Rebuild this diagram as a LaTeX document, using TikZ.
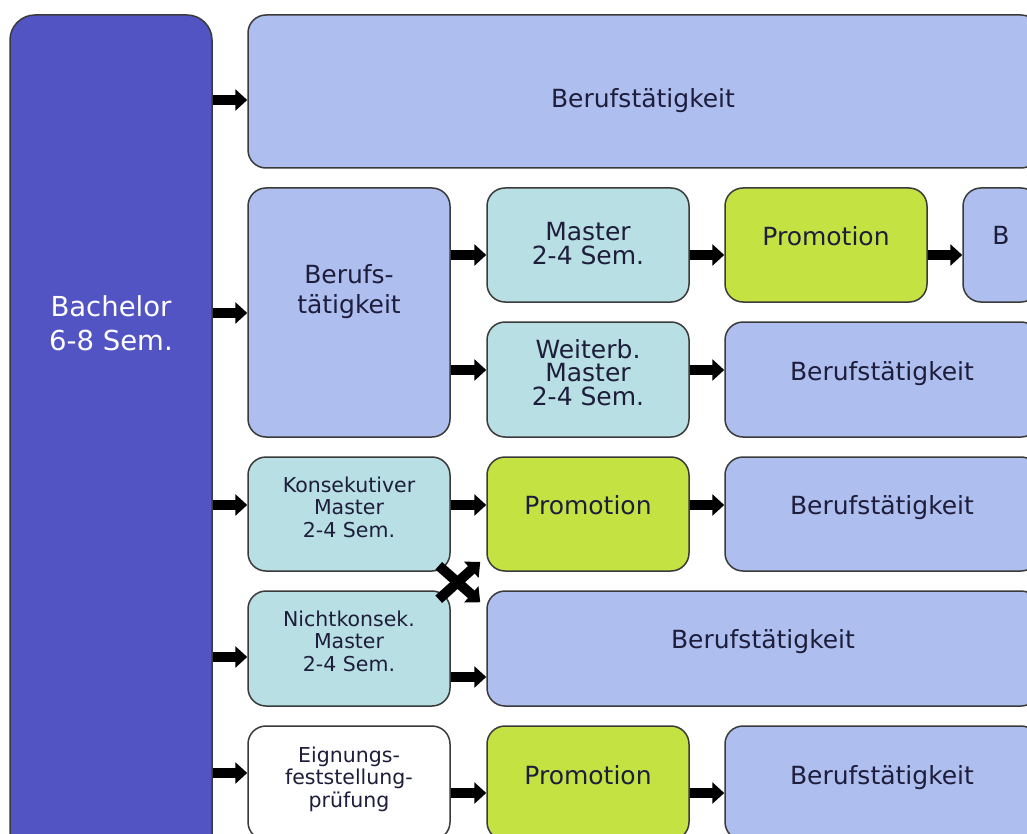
\documentclass[tikz,border=0pt]{standalone}
\usepackage{fontspec}
\setmainfont{DejaVu Sans}
\usetikzlibrary{arrows.meta}
\definecolor{bachc}{HTML}{5354C4}
\definecolor{lav}{HTML}{AEBEEE}
\definecolor{cyanb}{HTML}{B8DFE3}
\definecolor{limec}{HTML}{C4E342}
\definecolor{ink}{HTML}{1E1E3C}
\definecolor{edgec}{HTML}{3A3A3A}
\begin{document}
\begin{tikzpicture}[x=1pt,y=-1pt,
 box/.style={draw=edgec, line width=1.5pt, rounded corners=18pt, inner sep=0pt},
 big/.style={font=\fontsize{25}{23.5}\selectfont, text=ink, align=center, anchor=base, inner sep=0pt},
 small/.style={font=\fontsize{20.5}{22.5}\selectfont, text=ink, align=center, anchor=base, inner sep=0pt},
 arr/.style={line width=10pt, -{Triangle[length=12pt,width=21pt]}},
]
\clip (0,0) rectangle (1027,834);
\fill[white] (0,0) rectangle (1027,834);

% boxes
\node[box, fill=bachc, rounded corners=25pt, minimum width=202pt, minimum height=845pt] (bach) at (111,437.5) {};
\node[box, fill=lav, minimum width=791pt, minimum height=153pt] (top) at (643.5,91.5) {};
\node[box, fill=lav, minimum width=202pt, minimum height=249pt] (beruf2) at (349,312.5) {};
\node[box, fill=cyanb, minimum width=202pt, minimum height=114pt] (master) at (588,245) {};
\node[box, fill=limec, minimum width=202pt, minimum height=114pt] (promoA) at (826,245) {};
\node[box, fill=lav, minimum width=76pt, minimum height=114pt] (bbox) at (1001,245) {};
\node[box, fill=cyanb, minimum width=202pt, minimum height=115pt] (weit) at (588,379.5) {};
\node[box, fill=lav, minimum width=314pt, minimum height=115pt] (berufB) at (882,379.5) {};
\node[box, fill=cyanb, minimum width=202pt, minimum height=114pt] (kons) at (349,514) {};
\node[box, fill=limec, minimum width=202pt, minimum height=114pt] (promoB) at (588,514) {};
\node[box, fill=lav, minimum width=314pt, minimum height=114pt] (berufC) at (882,514) {};
\node[box, fill=cyanb, minimum width=202pt, minimum height=115pt] (nicht) at (349,648.5) {};
\node[box, fill=lav, minimum width=552pt, minimum height=115pt] (berufD) at (763,648.5) {};
\node[box, fill=white, minimum width=202pt, minimum height=114pt] (eign) at (349,783) {};
\node[box, fill=limec, minimum width=202pt, minimum height=114pt] (promoC) at (588,783) {};
\node[box, fill=lav, minimum width=314pt, minimum height=114pt] (berufE) at (882,783) {};

% texts (anchor=base is the baseline of the last line)
\node[big, text=white, font=\fontsize{27.5}{34}\selectfont] (tbach) at (111,350) {Bachelor\\6-8 Sem.};
\node[big] (ttop) at (643,108) {Berufstätigkeit};
\node[big, font=\fontsize{25}{30}\selectfont] (tberuf2) at (349,313) {Berufs-\\tätigkeit};
\node[big] (tmaster) at (588,264) {Master\\2-4 Sem.};
\node[big] (tpromoA) at (826,245) {Promotion};
\node[big] (tb) at (1001,244) {B};
\node[big] (tweit) at (588,405) {Weiterb.\\Master\\2-4 Sem.};
\node[big] (tberufB) at (882,380) {Berufstätigkeit};
\node[small] (tkons) at (349,537) {Konsekutiver\\Master\\2-4 Sem.};
\node[big] (tpromoB) at (588,514) {Promotion};
\node[big] (tberufC) at (882,514) {Berufstätigkeit};
\node[small] (tnicht) at (349,671) {Nichtkonsek.\\Master\\2-4 Sem.};
\node[big] (tberufD) at (763,648) {Berufstätigkeit};
\node[small] (teign) at (349,807) {Eignungs-\\feststellung-\\prüfung};
\node[big] (tpromoC) at (588,784) {Promotion};
\node[big] (tberufE) at (882,784) {Berufstätigkeit};

% arrows
\draw[arr] (bach.east |- 0,100) -- (top.west |- 0,100);
\draw[arr] (bach.east |- 0,313) -- (beruf2.west |- 0,313);
\draw[arr] (bach.east |- 0,505) -- (kons.west |- 0,505);
\draw[arr] (bach.east |- 0,657) -- (nicht.west |- 0,657);
\draw[arr] (bach.east |- 0,773) -- (eign.west |- 0,773);
\draw[arr] (beruf2.east |- 0,255) -- (master.west |- 0,255);
\draw[arr] (beruf2.east |- 0,370) -- (weit.west |- 0,370);
\draw[arr] (master.east |- 0,255) -- (promoA.west |- 0,255);
\draw[arr] (promoA.east |- 0,255) -- (bbox.west |- 0,255);
\draw[arr] (weit.east |- 0,370) -- (berufB.west |- 0,370);
\draw[arr] (kons.east |- 0,505) -- (promoB.west |- 0,505);
\draw[arr] (promoB.east |- 0,505) -- (berufC.west |- 0,505);
\draw[arr] (nicht.east |- 0,677) -- (berufD.west |- 0,677);
\draw[arr] (eign.east |- 0,793) -- (promoC.west |- 0,793);
\draw[arr] (promoC.east |- 0,793) -- (berufE.west |- 0,793);
\draw[arr] ([shift={(-12,-6)}]kons.south east) -- ([shift={(-6,12)}]berufD.north west);
\draw[arr] ([shift={(-12,9)}]nicht.north east) -- ([shift={(-6,-10)}]promoB.south west);
\end{tikzpicture}
\end{document}
